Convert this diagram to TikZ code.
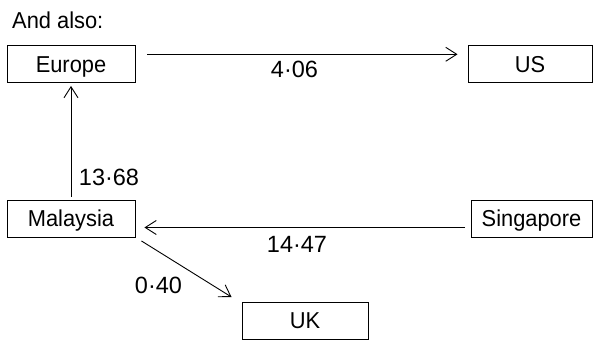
\documentclass[tikz,border=0pt]{standalone}
\usepackage{fontspec}
\setmainfont{Liberation Sans}
\newfontfamily\narrowsans[FakeStretch=0.95]{Liberation Sans}
\usetikzlibrary{arrows.meta,calc}
\begin{document}
\begin{tikzpicture}[x=1pt,y=-1pt,
  box/.style={draw,line width=0.9pt,rectangle,inner sep=0pt,minimum height=37pt,
    text height=16.5pt,text depth=0pt,font=\narrowsans\fontsize{23}{25}\selectfont},
  lab/.style={inner sep=0pt,anchor=base,font=\fontsize{23.5}{26}\selectfont},
  conn/.style={line width=0.9pt,-{Straight Barb[length=11pt,width=14pt,line width=0.9pt]}}]
\useasboundingbox (0,0) rectangle (593,340);
\node[inner sep=0pt,anchor=base west,font=\narrowsans\fontsize{23}{25}\selectfont] (title) at (12,28) {And also:};
\node[box,minimum width=128pt] (Europe) at (71,64) {Europe};
\node[box,minimum width=124pt] (US) at (530,64) {US};
\node[box,minimum width=128pt] (Malaysia) at (71,218.5) {Malaysia};
\node[box,minimum width=121pt] (Singapore) at (531.5,218.5) {Singapore};
\node[box,minimum width=126pt] (UK) at (305,320.5) {UK};
\draw[conn] ($(Europe.east)+(12,-9.7)$) -- ($(US.west)+(-10,-9.7)$);
\draw[conn] ($(Malaysia.north)+(0,-3)$) -- ($(Europe.south)+(0,3)$);
\draw[conn] ($(Singapore.west)+(-5.5,9)$) -- ($(Malaysia.east)+(9,9)$);
\draw[conn] ($(Malaysia.south east)+(6,3.5)$) -- ($(UK.north west)+(-10,-4.5)$);
\node[lab] (l1) at (294.5,77) {4·06};
\node[lab] (l2) at (109,185) {13·68};
\node[lab] (l3) at (297,252) {14·47};
\node[lab] (l4) at (158.5,293) {0·40};
\end{tikzpicture}
\end{document}
